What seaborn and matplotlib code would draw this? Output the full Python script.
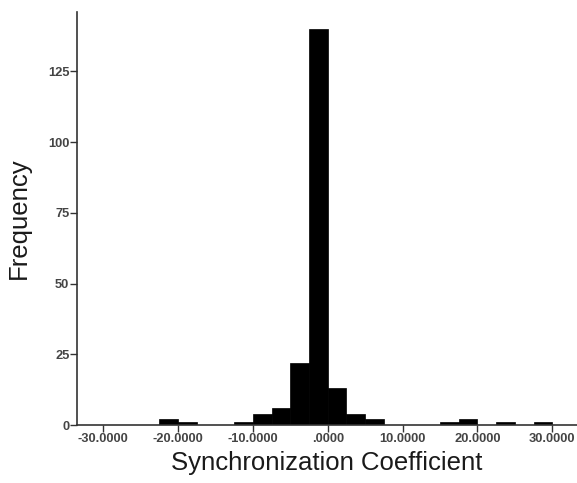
import matplotlib
matplotlib.use("Agg")
import matplotlib.pyplot as plt
import seaborn as sns
import pandas as pd

# Data: histogram bins (left edges, width 2.5) and counts
bin_left = [-22.5, -20.0, -12.5, -10.0, -7.5, -5.0, -2.5, 0.0, 2.5, 5.0, 15.0, 17.5, 22.5, 27.5]
counts = [2, 1, 1, 4, 6, 22, 140, 13, 4, 2, 1, 2, 1, 1]
bin_width = 2.5
x_ticks = [-30, -20, -10, 0, 10, 20, 30]
x_ticklabels = ["-30.0000", "-20.0000", "-10.0000", ".0000", "10.0000", "20.0000", "30.0000"]
y_ticks = [0, 25, 50, 75, 100, 125]
y_ticklabels = ["0", "25", "50", "75", "100", "125"]

sns.set_style("white")
plt.rcParams['font.family'] = ['Liberation Sans', 'DejaVu Sans']

fig = plt.figure(figsize=(5.77, 4.83), dpi=100)
ax = fig.add_axes([0.1335, 0.12, 0.8665, 0.855])

df = pd.DataFrame({"center": [b + bin_width / 2 for b in bin_left], "count": counts})
sns.histplot(data=df, x="center", weights="count", binwidth=bin_width,
             binrange=(min(bin_left), max(bin_left) + bin_width), color="black",
             edgecolor="black", linewidth=0.5, alpha=1, ax=ax)

ax.set_xlim(-33.5, 33.3)
ax.set_ylim(0, 146)
ax.set_xticks(x_ticks)
ax.set_xticklabels(x_ticklabels, fontsize=9.3, fontweight="bold", color="#444444")
ax.set_yticks(y_ticks)
ax.set_yticklabels(y_ticklabels, fontsize=9.3, fontweight="bold", color="#444444")
ax.tick_params(axis="both", direction="out", length=5, width=1, color="#333333")
ax.tick_params(axis="x", bottom=True, pad=1)
ax.tick_params(axis="y", left=True, pad=0.5)

for s in ["top", "right"]:
    ax.spines[s].set_visible(False)
for s in ["left", "bottom"]:
    ax.spines[s].set_color("#333333")
    ax.spines[s].set_linewidth(1.2)

ax.set_xlabel("Synchronization Coefficient", fontsize=18.5, color="#1a1a1a", labelpad=4)
ax.set_ylabel("Frequency", fontsize=18.5, color="#1a1a1a", labelpad=12)

fig.savefig("out.png", dpi=100)
